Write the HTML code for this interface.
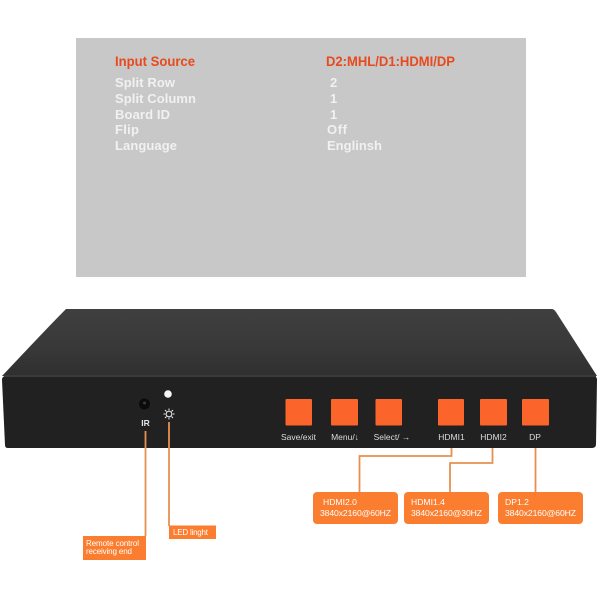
<!DOCTYPE html>
<html>
<head>
<meta charset="utf-8">
<style>
html,body{margin:0;padding:0;background:#fff}
svg{display:block;filter:blur(0.35px)}
text{font-family:"Liberation Sans",sans-serif}
</style>
</head>
<body>
<svg width="600" height="600" viewBox="0 0 600 600" xmlns="http://www.w3.org/2000/svg">
<defs>
<linearGradient id="top" x1="0" y1="0" x2="0" y2="1">
<stop offset="0" stop-color="#3f3f40"/>
<stop offset="0.6" stop-color="#383839"/>
<stop offset="1" stop-color="#2f2f30"/>
</linearGradient>
</defs>
<rect width="600" height="600" fill="#fff"/>
<rect x="76" y="38" width="450" height="239" fill="#c8c8c8"/>
<g font-weight="bold" font-size="14" fill="#e8491d">
<text x="115" y="66" textLength="80" lengthAdjust="spacingAndGlyphs">Input Source</text>
<text x="326" y="66" textLength="129" lengthAdjust="spacingAndGlyphs">D2:MHL/D1:HDMI/DP</text>
</g>
<g font-weight="bold" font-size="13" fill="#f1f1f1">
<text x="115" y="87" textLength="60">Split Row</text>
<text x="115" y="103" textLength="81">Split Column</text>
<text x="115" y="119" textLength="55">Board ID</text>
<text x="115" y="134" textLength="24">Flip</text>
<text x="115" y="150" textLength="62">Language</text>
<text x="330" y="87">2</text>
<text x="330" y="103">1</text>
<text x="330" y="119">1</text>
<text x="327" y="134" textLength="20">Off</text>
<text x="327" y="150" textLength="55">Englinsh</text>
</g>

<path d="M66 309 L552 309 Q554 309 556 312 L597 376 L2 376 L3 375 Q50 325 66 309Z" fill="url(#top)"/>
<path d="M2 380 Q2 376 6 376 L593 376 Q597 376 597 380 L596 444 Q596 448 592 448 L8 448 Q5 448 5 445Z" fill="#212122"/>
<rect x="4" y="375" width="592" height="2" fill="#3a3a3b"/>

<circle cx="144.500" cy="404" r="5.500" fill="#0b0b0b"/>
<circle cx="144.500" cy="403" r="1.500" fill="#3a3a3a"/>
<circle cx="168" cy="394" r="3.800" fill="#f5f5f5"/>
<g stroke="#e6e6e6" stroke-width="1" fill="none">
<circle cx="169" cy="414" r="2.800"/>
<path d="M169 408.500v2M169 417.500v2M163.500 414h2M172.500 414h2M165 410l1.500 1.500M171.500 416.500l1.500 1.500M173 410l-1.500 1.500M166.500 416.500l-1.500 1.500"/>
</g>
<text x="145.500" y="426" font-size="8.500" font-weight="bold" fill="#e6e6e6" text-anchor="middle">IR</text>

<g fill="#fb652b">
<rect x="285.500" y="399" width="26.500" height="26.500" rx="1"/>
<rect x="331" y="399" width="27" height="26.500" rx="1"/>
<rect x="375.500" y="399" width="26.500" height="26.500" rx="1"/>
<rect x="438" y="399" width="26" height="26.500" rx="1"/>
<rect x="480" y="399" width="27" height="26.500" rx="1"/>
<rect x="522" y="399" width="27" height="26.500" rx="1"/>
</g>
<g font-size="8.500" fill="#dcdcdc" text-anchor="middle">
<text x="298.500" y="440">Save/exit</text>
<text x="345" y="440">Menu/↓</text>
<text x="392" y="440">Select/ →</text>
<text x="451.500" y="440">HDMI1</text>
<text x="493.500" y="440">HDMI2</text>
<text x="535" y="440">DP</text>
</g>

<g stroke="#e8914f" stroke-width="1.800" fill="none">
<path d="M145.500 431V536"/>
<path d="M169 422V526"/>
<path d="M451.500 448V456H359.500V492"/>
<path d="M492.500 448V463H450V492"/>
<path d="M535.500 448V492"/>
</g>

<rect x="83" y="536" width="63" height="24" fill="#fb7d2f"/>
<rect x="169" y="525.500" width="47" height="13.500" fill="#fb7d2f"/>
<rect x="313" y="492" width="85" height="32" rx="4" fill="#fb7d2f"/>
<rect x="404" y="492" width="85" height="32" rx="4" fill="#fb7d2f"/>
<rect x="498" y="492" width="85" height="32" rx="4" fill="#fb7d2f"/>
<g font-size="8" fill="#fff">
<text x="86" y="546" textLength="53">Remote control</text>
<text x="86" y="554" textLength="46">receiving end</text>
<text x="173" y="535" textLength="35">LED linght</text>
</g>
<g font-size="8.600" fill="#fff">
<text x="323" y="505">HDMI2.0</text>
<text x="320" y="516" textLength="71">3840x2160@60HZ</text>
<text x="411" y="505">HDMI1.4</text>
<text x="411" y="516" textLength="71">3840x2160@30HZ</text>
<text x="505" y="505">DP1.2</text>
<text x="505" y="516" textLength="71">3840x2160@60HZ</text>
</g>
</svg>
</body>
</html>
